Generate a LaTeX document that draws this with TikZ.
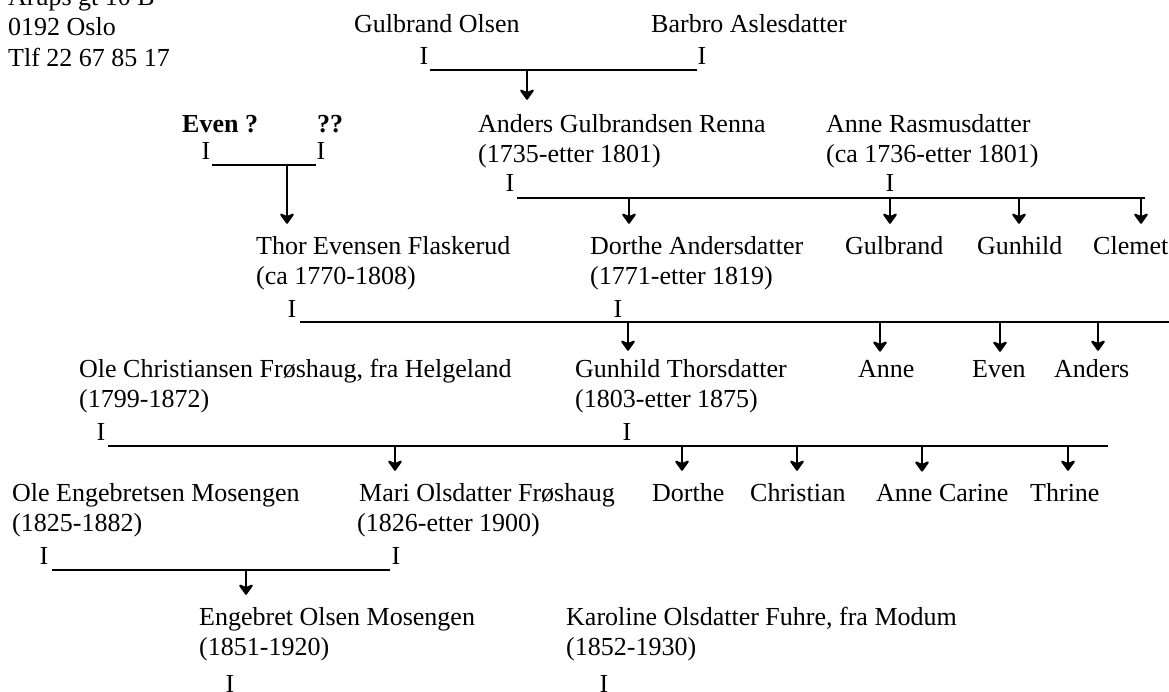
\documentclass[tikz,border=0pt]{standalone}
\usepackage{fontspec}
\setmainfont{Liberation Serif}
\usetikzlibrary{arrows.meta}
\begin{document}
\begin{tikzpicture}[x=1pt,y=-1pt,
  txt/.style={anchor=base west, inner sep=0pt, font=\fontsize{26}{30}\selectfont},
  boldtxt/.style={anchor=base west, inner sep=0pt, font=\fontsize{26}{30}\selectfont\bfseries},
  imark/.style={anchor=base, inner sep=0pt, font=\fontsize{26}{30}\selectfont},
  hline/.style={line width=1.4pt},
  arr/.style={line width=1.2pt, -{Stealth[length=12pt,width=17pt,inset=3.5pt,line width=2pt,round]}, shorten >=#1}]
\fill[white] (0,0) rectangle (1169,692);
\useasboundingbox (0,0) rectangle (1169,692);

% address
\node[txt] (addr1) at (8,6) {Arups gt 10 B};
\node[txt] (addr2) at (8,36) {0192 Oslo};
\node[txt] (addr3) at (8,67) {Tlf 22 67 85 17};

% generation 0
\node[txt] (gulbrandO) at (354,33) {Gulbrand Olsen};
\node[txt] (barbro) at (651,33) {Barbro Aslesdatter};
\node[imark] (i0a) at (424,65) {I};
\node[imark] (i0b) at (702,65) {I};
\coordinate (l0s) at (430,70);
\coordinate (l0e) at (697,70);
\coordinate (b0) at (527,70);
\draw[hline] (l0s) -- (l0e);

% generation 1
\node[boldtxt] (evenQ) at (182,133) {Even ?};
\node[boldtxt] (qq) at (317,133) {??};
\node[imark] (iea) at (206,160) {I};
\node[imark] (ieb) at (321,160) {I};
\coordinate (les) at (212,165);
\coordinate (lee) at (316,165);
\coordinate (be) at (287,165);
\draw[hline] (les) -- (lee);

\node[txt] (anders) at (478,133) {Anders Gulbrandsen Renna};
\node[txt] (andersD) at (478,163) {(1735-etter 1801)};
\node[txt] (anneR) at (826,133) {Anne Rasmusdatter};
\node[txt] (anneRD) at (826,163) {(ca 1736-etter 1801)};
\node[imark] (i1a) at (510,192) {I};
\node[imark] (i1b) at (890,192) {I};
\coordinate (l1s) at (517,198);
\coordinate (l1e) at (1145,198);
\coordinate (b1a) at (629,198);
\coordinate (b1b) at (890,198);
\coordinate (b1c) at (1019,198);
\coordinate (b1d) at (1141,198);
\draw[hline] (l1s) -- (l1e);

% generation 2
\node[txt] (thor) at (256,255) {Thor Evensen Flaskerud};
\node[txt] (thorD) at (256,285) {(ca 1770-1808)};
\node[txt] (dortheA) at (590,255) {Dorthe Andersdatter};
\node[txt] (dortheAD) at (590,285) {(1771-etter 1819)};
\node[txt] (gulbrand) at (845,255) {Gulbrand};
\node[txt] (gunhild) at (977,255) {Gunhild};
\node[txt] (clemet) at (1093,255) {Clemet};
\node[imark] (i2a) at (292,317) {I};
\node[imark] (i2b) at (618,317) {I};
\coordinate (l2s) at (300,322);
\coordinate (l2e) at (1169,322);
\coordinate (b2a) at (628,322);
\coordinate (b2b) at (880,322);
\coordinate (b2c) at (1000,322);
\coordinate (b2d) at (1098,322);
\draw[hline] (l2s) -- (l2e);

% generation 3
\node[txt] (oleC) at (79,377) {Ole Christiansen Frøshaug, fra Helgeland};
\node[txt] (oleCD) at (79,407) {(1799-1872)};
\node[txt] (gunhildT) at (575,377) {Gunhild Thorsdatter};
\node[txt] (gunhildTD) at (575,407) {(1803-etter 1875)};
\node[txt] (anne) at (858,377) {Anne};
\node[txt] (even) at (972,377) {Even};
\node[txt] (andersS) at (1054,377) {Anders};
\node[imark] (i3a) at (101,440) {I};
\node[imark] (i3b) at (627,440) {I};
\coordinate (l3s) at (108,446);
\coordinate (l3e) at (1108,446);
\coordinate (b3a) at (395,446);
\coordinate (b3b) at (682,446);
\coordinate (b3c) at (797,446);
\coordinate (b3d) at (922,446);
\coordinate (b3e) at (1068,446);
\draw[hline] (l3s) -- (l3e);

% generation 4
\node[txt] (oleE) at (12,501) {Ole Engebretsen Mosengen};
\node[txt] (oleED) at (12,531) {(1825-1882)};
\node[txt] (mari) at (359,501) {Mari Olsdatter Frøshaug};
\node[txt] (mariD) at (357,531) {(1826-etter 1900)};
\node[txt] (dorthe) at (652,501) {Dorthe};
\node[txt] (christian) at (750,501) {Christian};
\node[txt] (anneC) at (876,501) {Anne Carine};
\node[txt] (thrine) at (1030,501) {Thrine};
\node[imark] (i4a) at (44,564) {I};
\node[imark] (i4b) at (396,564) {I};
\coordinate (l4s) at (52,570);
\coordinate (l4e) at (390,570);
\coordinate (b4) at (246,570);
\draw[hline] (l4s) -- (l4e);

% generation 5
\node[txt] (engebret) at (199,625) {Engebret Olsen Mosengen};
\node[txt] (engebretD) at (199,655) {(1851-1920)};
\node[txt] (karoline) at (566,625) {Karoline Olsdatter Fuhre, fra Modum};
\node[txt] (karolineD) at (566,655) {(1852-1930)};
\node[imark] (i5a) at (230,692) {I};
\node[imark] (i5b) at (604,692) {I};

% arrows
\draw[arr=15] (b0) -- (b0 |- anders.north);
\draw[arr=13] (be) -- (be |- thor.north);
\draw[arr=13] (b1a) -- (b1a |- dortheA.north);
\draw[arr=13] (b1b) -- (b1b |- gulbrand.north);
\draw[arr=13] (b1c) -- (b1c |- gunhild.north);
\draw[arr=13] (b1d) -- (b1d |- clemet.north);
\draw[arr=8] (b2a) -- (b2a |- gunhildT.north);
\draw[arr=8] (b2b) -- (b2b |- anne.north);
\draw[arr=8] (b2c) -- (b2c |- even.north);
\draw[arr=8] (b2d) -- (b2d |- andersS.north);
\draw[arr=12] (b3a) -- (b3a |- mari.north);
\draw[arr=12] (b3b) -- (b3b |- dorthe.north);
\draw[arr=12] (b3c) -- (b3c |- christian.north);
\draw[arr=12] (b3d) -- (b3d |- anneC.north);
\draw[arr=12] (b3e) -- (b3e |- thrine.north);
\draw[arr=12] (b4) -- (b4 |- engebret.north);
\end{tikzpicture}
\end{document}
